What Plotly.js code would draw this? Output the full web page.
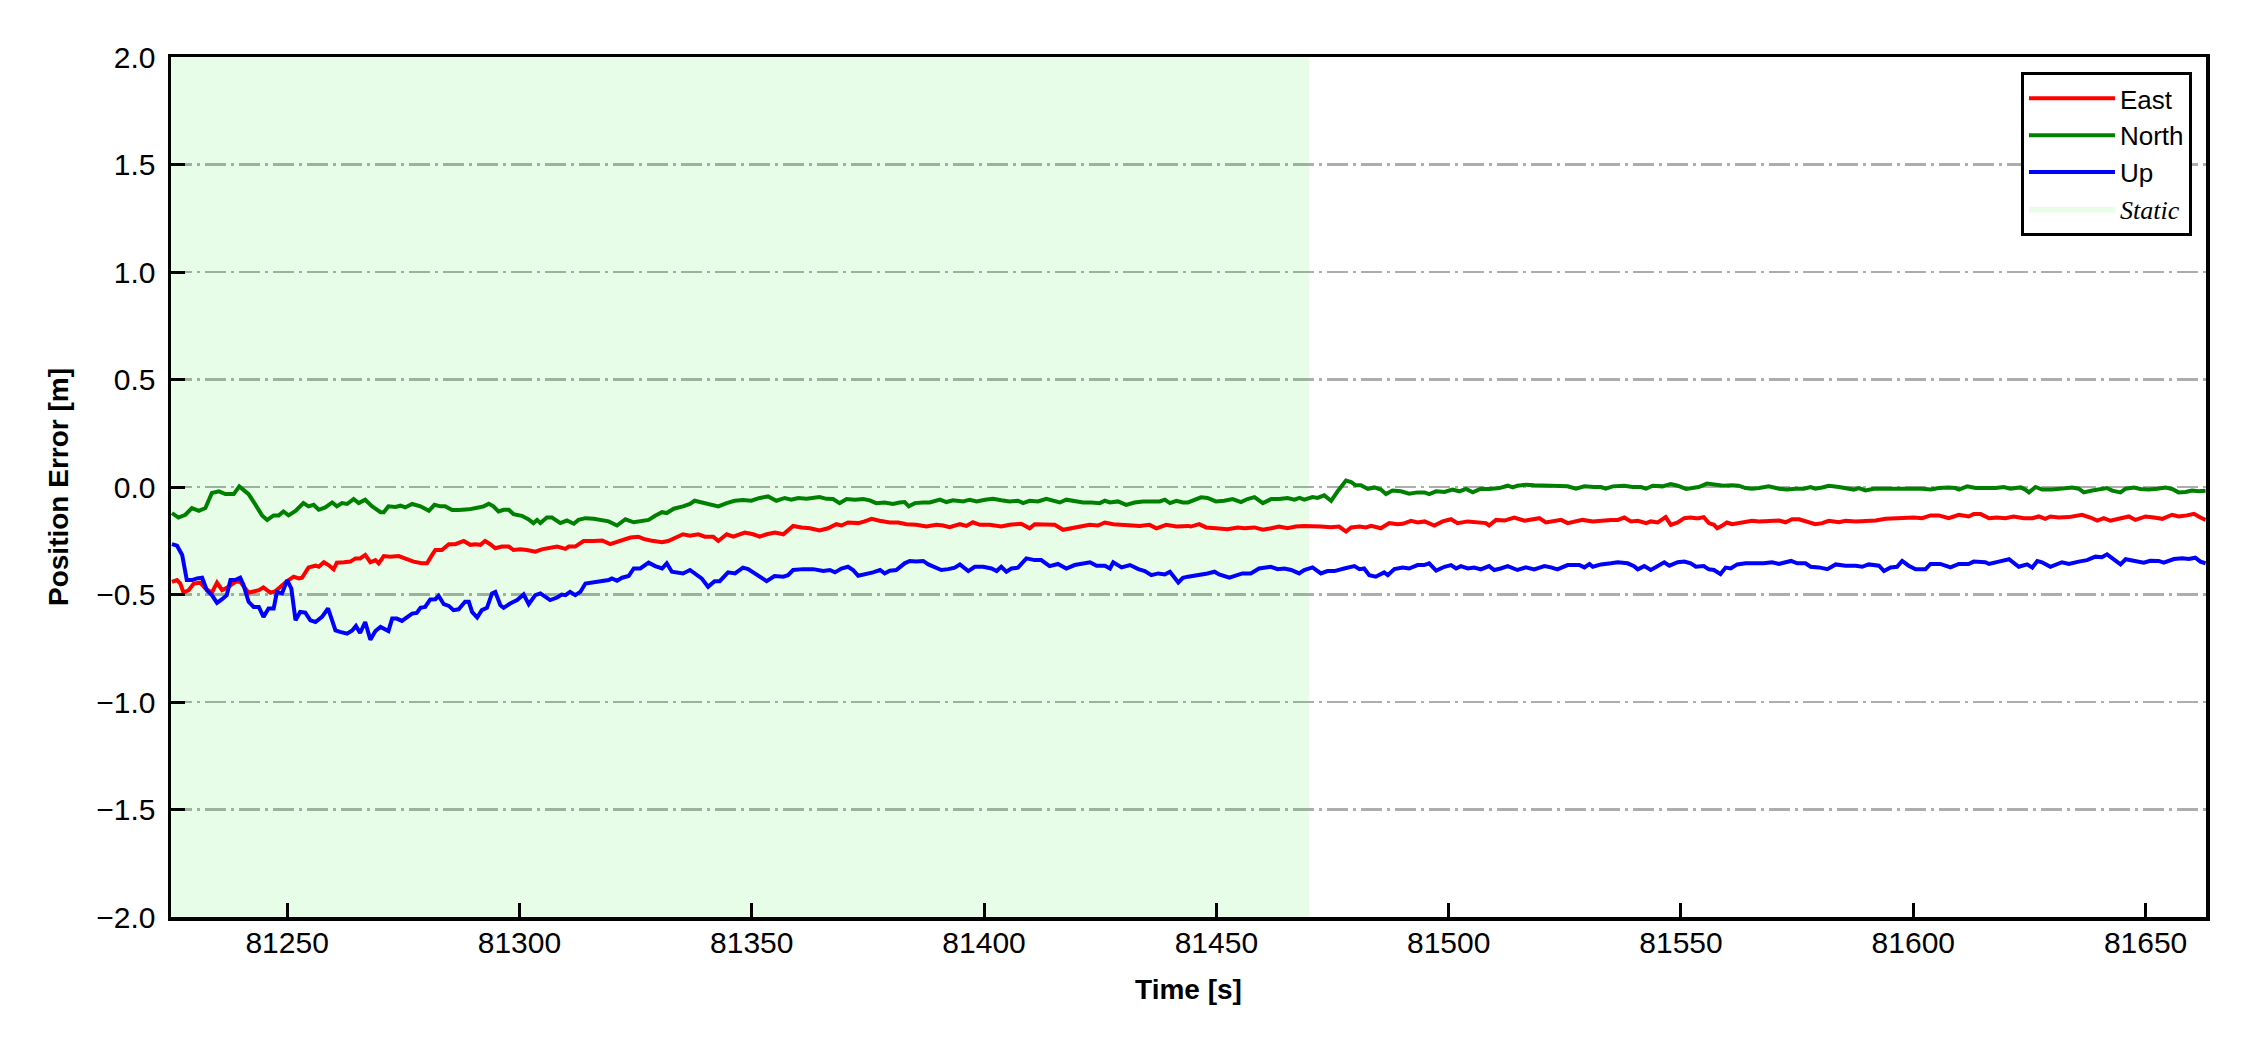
<!DOCTYPE html>
<html>
<head>
<meta charset="utf-8">
<script src="https://cdn.plot.ly/plotly-3.0.1.min.js"></script>
<style>html,body{margin:0;padding:0;background:#fff;}</style>
</head>
<body>
<div id="chart" style="width:2250px;height:1050px;"></div>
<script>
// ---- Data ----
const xRange = [81225, 81663];
const yRange = [-2, 2];
const staticStart = 81225;
const staticEnd = 81470;
const xTicks = [81250, 81300, 81350, 81400, 81450, 81500, 81550, 81600, 81650];

const northT = [81225.2,81226.6,81228.1,81229.5,81231.0,81232.4,81233.8,81235.3,81236.7,81238.5,81239.7,81241.7,81243.2,81244.6,81245.7,81247.1,81248.2,81249.2,81250.3,81251.8,81253.5,81254.6,81255.7,81256.8,81258.2,81259.7,81260.7,81261.8,81262.9,81264.3,81265.4,81266.8,81268.3,81270.1,81270.8,81271.8,81273.3,81274.4,81275.4,81276.9,81278.7,81280.5,81281.7,81283.0,81284.0,81285.5,81286.9,81289.1,81291.2,81292.3,81293.4,81294.4,81295.5,81296.6,81297.7,81298.7,81300.5,81301.9,81303.0,81303.8,81304.5,81305.9,81307.0,81308.8,81310.2,81311.7,81312.7,81314.2,81316.0,81317.8,81319.2,81321.0,81322.8,81324.6,81326.4,81327.8,81329.2,81330.7,81331.7,81333.2,
81335.2,81336.7,81337.7,81339.2,81340.9,81342.8,81344.6,81346.3,81348.1,81349.9,81351.7,81353.5,81355.3,81357.1,81358.5,81360.0,81361.8,81363.2,81364.6,81366.1,81367.5,81368.9,81370.4,81372.2,81374.0,81375.4,81376.8,81378.6,81380.4,81381.8,81382.9,81383.8,81385.1,81386.9,81388.3,81390.5,81391.9,81393.3,81395.5,81396.9,81398.4,81400.2,81401.9,81403.7,81405.5,81407.3,81408.4,81409.8,81411.6,81413.4,81414.8,81416.3,81417.7,81419.5,81421.3,81423.1,81424.9,81426.0,81427.1,81428.8,81430.6,81432.4,81434.2,81436.0,81437.8,81438.9,81440.0,81441.4,81442.8,81443.9,
81444.5,81446.7,81448.1,81449.9,81451.7,81453.5,81455.3,81456.7,81458.2,81460.0,81461.8,81463.5,81465.3,81466.8,81467.9,81468.9,81470.7,81471.8,81473.2,81474.7,81476.1,81477.9,81479.0,81480.0,81481.1,81482.6,81484.0,81485.4,81486.5,81487.9,81489.7,81491.5,81493.3,81494.8,81495.8,81497.3,81499.1,81500.8,81502.3,81503.7,81505.2,81506.9,81508.7,81510.9,81512.7,81513.8,81514.8,81516.6,81518.4,81520.6,81522.7,81525.6,81527.4,81529.2,81531.3,81532.8,81533.8,81535.3,81537.8,81539.6,81541.4,81542.5,81543.9,81546.0,81547.8,81549.3,81551.1,81553.2,
81553.8,81555.6,81557.4,81559.2,81561.0,81562.4,81563.9,81565.3,81566.8,81568.9,81571.1,81572.8,81574.6,81576.4,81577.9,81578.9,81580.4,81581.8,81584.0,81585.8,81587.2,81588.3,81589.7,81591.5,81593.7,81595.4,81597.6,81599.8,81601.9,81603.7,81605.5,81607.6,81609.1,81609.8,81611.6,81613.4,81615.5,81617.7,81619.5,81620.9,81622.0,81623.1,81624.1,81624.9,81626.3,81627.7,81629.9,81632.0,81634.2,81635.6,81636.7,81638.5,81640.3,81641.7,81642.8,81644.6,81645.7,81647.5,81648.9,81650.7,81652.5,81654.3,81655.7,81657.1,81658.6,81660.0,81661.4,81662.9];
const northV = [-0.121,-0.142,-0.129,-0.098,-0.111,-0.098,-0.028,-0.020,-0.033,-0.033,0.003,-0.033,-0.083,-0.132,-0.153,-0.132,-0.132,-0.114,-0.132,-0.111,-0.075,-0.090,-0.083,-0.106,-0.095,-0.072,-0.090,-0.075,-0.079,-0.056,-0.075,-0.059,-0.090,-0.117,-0.117,-0.090,-0.093,-0.087,-0.095,-0.079,-0.090,-0.111,-0.083,-0.090,-0.090,-0.107,-0.107,-0.104,-0.095,-0.090,-0.078,-0.090,-0.114,-0.106,-0.106,-0.126,-0.134,-0.150,-0.168,-0.153,-0.168,-0.142,-0.142,-0.168,-0.156,-0.171,-0.153,-0.145,-0.148,-0.153,-0.160,-0.179,-0.150,-0.164,-0.160,-0.153,-0.134,-0.117,-0.121,-0.101,
-0.090,-0.079,-0.064,-0.072,-0.079,-0.090,-0.075,-0.064,-0.061,-0.064,-0.051,-0.044,-0.064,-0.051,-0.059,-0.051,-0.055,-0.051,-0.047,-0.055,-0.056,-0.075,-0.056,-0.059,-0.056,-0.062,-0.075,-0.072,-0.079,-0.072,-0.070,-0.090,-0.075,-0.072,-0.072,-0.059,-0.070,-0.062,-0.067,-0.059,-0.067,-0.059,-0.055,-0.062,-0.067,-0.064,-0.075,-0.064,-0.067,-0.055,-0.064,-0.072,-0.059,-0.067,-0.072,-0.072,-0.075,-0.064,-0.072,-0.067,-0.083,-0.072,-0.067,-0.067,-0.067,-0.059,-0.075,-0.064,-0.072,-0.072,
-0.067,-0.048,-0.051,-0.067,-0.064,-0.056,-0.070,-0.056,-0.047,-0.075,-0.056,-0.056,-0.051,-0.059,-0.051,-0.059,-0.047,-0.051,-0.039,-0.064,-0.020,0.030,0.023,0.008,0.008,-0.009,-0.002,-0.012,-0.033,-0.016,-0.020,-0.031,-0.025,-0.025,-0.033,-0.020,-0.023,-0.012,-0.020,-0.009,-0.025,-0.008,-0.009,-0.005,0.006,-0.002,0.006,0.011,0.008,0.006,0.006,0.003,-0.008,0.003,0.000,0.000,-0.008,0.003,0.006,0.000,0.000,-0.008,0.006,0.003,0.014,0.006,-0.009,0.000,
0.000,0.016,0.011,0.006,0.008,0.006,-0.005,-0.008,-0.005,0.003,-0.008,-0.012,-0.008,-0.008,0.000,-0.008,-0.002,0.006,0.000,-0.005,-0.012,-0.005,-0.016,-0.008,-0.008,-0.005,-0.005,-0.005,-0.008,-0.012,-0.005,-0.002,-0.005,-0.012,0.003,-0.005,-0.005,-0.005,0.000,-0.008,-0.005,-0.002,-0.012,-0.025,0.000,-0.012,-0.012,-0.008,-0.002,-0.008,-0.025,-0.016,-0.009,-0.005,-0.017,-0.025,-0.008,-0.002,-0.009,-0.012,-0.008,-0.002,-0.009,-0.025,-0.023,-0.016,-0.020,-0.017];

const eastT = [81225.2,81226.3,81227.0,81227.7,81228.8,81229.9,81231.3,81232.4,81233.8,81234.9,81236.0,81237.4,81238.8,81239.9,81241.7,81242.8,81243.9,81244.9,81246.4,81247.5,81248.9,81250.0,81251.4,81252.5,81253.2,81254.6,81256.1,81256.8,81257.9,81258.9,81260.0,81260.7,81262.2,81263.6,81264.7,81265.7,81266.8,81267.9,81269.0,81269.7,81270.8,81272.2,81274.0,81275.4,81277.2,81279.0,81280.1,81281.2,81281.9,81283.3,81284.8,81286.2,81288.0,81289.4,81290.5,81291.6,81292.6,81293.7,81294.8,81296.2,81297.7,81298.7,81300.2,81301.6,81303.4,81304.8,81306.3,81308.1,81309.9,81310.6,81312.0,81313.8,81316.0,81317.8,81319.5,81321.0,81322.4,81323.9,81325.6,81326.7,81328.2,81329.6,81330.7,81332.0,
81335.2,81336.7,81338.5,81339.9,81341.7,81342.8,81344.6,81346.0,81348.5,81350.3,81351.7,81353.2,81355.0,81356.8,81358.9,81360.7,81362.5,81364.6,81366.4,81368.2,81369.3,81370.7,81372.9,81374.3,81375.8,81377.5,81379.7,81381.5,81383.3,81385.4,81387.6,81389.7,81391.2,81392.6,81394.8,81396.2,81397.6,81399.1,81401.2,81403.7,81405.5,81408.0,81409.8,81410.9,81412.7,81415.2,81417.0,81418.8,81420.6,81422.7,81424.5,81426.0,81427.8,81429.9,81431.4,81433.5,81435.6,81437.1,81439.2,81441.4,81443.9,
81444.5,81446.3,81447.8,81449.9,81452.4,81454.6,81456.0,81458.2,81460.0,81461.8,81463.5,81465.3,81467.1,81468.9,81470.7,81472.5,81474.7,81476.4,81477.9,81479.0,81480.8,81482.2,81483.3,81485.4,81487.2,81489.0,81490.1,81491.9,81493.3,81494.8,81496.9,81498.7,81500.5,81501.9,81504.1,81506.2,81508.0,81508.7,81510.2,81512.0,81514.1,81516.3,81517.7,81519.5,81520.9,81522.4,81524.2,81525.6,81527.4,81528.8,81531.0,81532.8,81534.9,81536.4,81537.8,81539.2,81540.7,81542.5,81543.5,81545.0,81546.7,81547.8,81549.3,81550.7,81552.1,81553.2,
81553.8,81554.9,81556.0,81557.1,81557.8,81558.9,81559.9,81561.0,81562.4,81563.9,81565.3,81566.8,81568.9,81571.1,81572.5,81573.9,81575.4,81577.2,81578.9,81580.4,81581.8,81584.0,81585.4,81587.6,81589.7,81591.9,81594.0,81596.2,81598.3,81600.1,81601.9,81603.7,81605.5,81607.6,81609.8,81611.9,81613.0,81614.5,81616.3,81618.0,81619.8,81621.6,81623.8,81625.6,81627.0,81628.4,81629.5,81631.3,81633.5,81636.3,81638.1,81639.6,81641.0,81642.4,81644.2,81646.4,81647.8,81650.0,81651.8,81653.6,81655.7,81657.1,81658.9,81660.4,81661.8,81662.9];
const eastV = [-0.441,-0.433,-0.449,-0.491,-0.480,-0.449,-0.445,-0.472,-0.491,-0.445,-0.480,-0.464,-0.441,-0.441,-0.492,-0.488,-0.480,-0.467,-0.492,-0.484,-0.456,-0.438,-0.417,-0.425,-0.422,-0.374,-0.366,-0.371,-0.350,-0.363,-0.383,-0.352,-0.350,-0.347,-0.332,-0.332,-0.316,-0.350,-0.340,-0.355,-0.321,-0.324,-0.321,-0.332,-0.347,-0.355,-0.355,-0.316,-0.293,-0.293,-0.266,-0.266,-0.251,-0.269,-0.266,-0.269,-0.251,-0.266,-0.285,-0.277,-0.277,-0.293,-0.290,-0.293,-0.301,-0.290,-0.285,-0.277,-0.288,-0.277,-0.277,-0.251,-0.251,-0.249,-0.266,-0.257,-0.246,-0.235,-0.231,-0.241,-0.249,-0.251,-0.257,-0.251,
-0.220,-0.227,-0.220,-0.231,-0.231,-0.251,-0.220,-0.231,-0.212,-0.220,-0.231,-0.220,-0.212,-0.220,-0.181,-0.188,-0.192,-0.202,-0.192,-0.173,-0.179,-0.165,-0.168,-0.160,-0.148,-0.157,-0.165,-0.165,-0.173,-0.176,-0.184,-0.176,-0.179,-0.187,-0.173,-0.181,-0.164,-0.176,-0.176,-0.184,-0.176,-0.171,-0.192,-0.173,-0.176,-0.176,-0.199,-0.192,-0.181,-0.176,-0.179,-0.165,-0.173,-0.176,-0.181,-0.181,-0.176,-0.192,-0.176,-0.184,-0.181,
-0.184,-0.173,-0.188,-0.192,-0.196,-0.188,-0.192,-0.188,-0.199,-0.192,-0.184,-0.192,-0.184,-0.181,-0.181,-0.184,-0.187,-0.184,-0.207,-0.188,-0.184,-0.188,-0.181,-0.192,-0.168,-0.173,-0.171,-0.157,-0.165,-0.160,-0.179,-0.160,-0.150,-0.168,-0.160,-0.165,-0.168,-0.179,-0.153,-0.156,-0.142,-0.157,-0.150,-0.145,-0.165,-0.160,-0.153,-0.168,-0.160,-0.153,-0.160,-0.156,-0.153,-0.153,-0.142,-0.160,-0.157,-0.168,-0.160,-0.165,-0.140,-0.176,-0.165,-0.145,-0.142,-0.145,
-0.145,-0.140,-0.168,-0.176,-0.192,-0.179,-0.165,-0.173,-0.168,-0.165,-0.157,-0.160,-0.157,-0.156,-0.164,-0.150,-0.150,-0.164,-0.173,-0.168,-0.157,-0.164,-0.157,-0.160,-0.157,-0.156,-0.148,-0.145,-0.145,-0.142,-0.145,-0.132,-0.132,-0.145,-0.129,-0.137,-0.126,-0.126,-0.145,-0.142,-0.145,-0.137,-0.145,-0.145,-0.137,-0.148,-0.137,-0.142,-0.140,-0.129,-0.142,-0.156,-0.145,-0.157,-0.148,-0.137,-0.153,-0.137,-0.142,-0.148,-0.129,-0.137,-0.132,-0.125,-0.142,-0.153];

const upT = [81225.2,81226.3,81227.4,81228.4,81229.5,81230.6,81231.7,81232.7,81233.8,81234.9,81236.0,81237.0,81237.8,81238.8,81239.9,81240.6,81241.7,81242.8,81243.9,81244.9,81246.0,81247.1,81247.8,81248.9,81250.0,81250.9,81251.8,81252.8,81253.9,81255.0,81256.1,81257.5,81258.8,81259.6,81260.4,81261.4,81262.9,81264.0,81264.8,81265.7,81266.8,81267.9,81269.0,81270.1,81271.1,81271.8,81272.6,81273.6,81274.7,81275.8,81276.9,81277.9,81278.7,81279.7,81280.8,81281.9,81282.6,81283.7,81284.8,81285.8,81286.9,81288.3,81289.1,81289.8,81290.9,81291.9,81293.0,81294.1,81294.8,81295.9,81296.6,81298.0,81299.5,81300.9,81302.0,81303.4,81304.5,81305.6,81306.6,81308.1,81309.1,81309.9,81310.9,81312.0,81313.1,81314.2,81315.6,81316.7,81317.8,81319.2,81319.9,81321.0,81322.1,81323.5,81324.6,81326.0,81327.8,81329.2,81330.7,81331.7,81332.8,
81335.2,81336.7,81338.1,81339.2,81340.6,81342.0,81343.1,81344.9,81346.4,81348.1,81349.2,81350.6,81351.7,81353.2,81354.9,81356.8,81357.8,81358.9,81361.1,81363.2,81365.4,81366.8,81367.9,81369.3,81370.7,81371.8,81372.9,81374.7,81376.1,81377.6,81378.6,81379.7,81381.1,81382.9,81384.0,81385.4,81386.9,81388.0,81389.4,81390.8,81392.3,81393.7,81394.8,81396.6,81398.0,81399.8,81401.6,81402.7,81403.7,81404.8,81405.9,81407.3,81409.1,81410.9,81412.3,81414.1,81415.9,81417.7,81419.5,81421.0,81422.8,81424.2,81426.0,81427.1,81427.8,81429.6,81431.4,81433.2,81434.6,81436.0,81437.5,81438.9,81440.0,81441.8,81442.8,81443.9,
81444.9,81446.3,81448.1,81449.6,81450.6,81452.8,81454.2,81455.6,81457.4,81459.2,81461.7,81463.2,81464.6,81466.1,81467.8,81468.9,81470.7,81472.5,81473.9,81475.4,81477.5,81479.7,81480.8,81481.8,81482.9,81484.3,81486.1,81486.9,81488.3,81490.1,81491.5,81493.3,81494.7,81495.8,81497.3,81499.1,81500.5,81501.6,81502.6,81504.1,81505.5,81506.9,81508.7,81509.8,81511.2,81512.7,81514.8,81516.6,81518.4,81520.6,81522.0,81523.4,81525.6,81528.1,81529.2,81530.3,81531.0,81532.8,81534.9,81536.4,81538.5,81539.9,81540.7,81542.1,81543.5,81545.0,81546.4,81547.5,81549.3,81550.7,81552.1,81553.2,
81553.8,81554.9,81556.0,81557.1,81558.5,81559.6,81560.7,81562.1,81563.9,81566.0,81567.8,81569.6,81571.1,81572.5,81573.7,81575.0,81576.8,81577.9,81579.7,81581.5,81583.3,81585.4,81587.6,81589.0,81590.4,81592.6,81593.7,81595.1,81596.5,81597.6,81599.0,81600.5,81602.6,81603.7,81605.8,81608.0,81609.8,81611.9,81613.0,81615.5,81616.3,81618.4,81620.6,81622.7,81624.5,81625.6,81626.7,81627.7,81629.5,81632.0,81633.5,81635.6,81637.4,81639.2,81640.6,81641.7,81643.2,81644.6,81645.7,81647.8,81649.6,81651.0,81652.8,81653.9,81656.1,81657.9,81659.3,81660.7,81661.8,81662.9];
const upV = [-0.266,-0.273,-0.316,-0.433,-0.433,-0.425,-0.422,-0.480,-0.503,-0.539,-0.522,-0.503,-0.433,-0.433,-0.422,-0.456,-0.534,-0.558,-0.558,-0.604,-0.565,-0.565,-0.488,-0.495,-0.433,-0.472,-0.620,-0.581,-0.584,-0.620,-0.628,-0.604,-0.565,-0.620,-0.667,-0.674,-0.682,-0.667,-0.646,-0.679,-0.628,-0.710,-0.670,-0.651,-0.662,-0.670,-0.612,-0.612,-0.623,-0.604,-0.589,-0.586,-0.562,-0.558,-0.523,-0.522,-0.506,-0.545,-0.553,-0.573,-0.569,-0.534,-0.534,-0.581,-0.607,-0.573,-0.562,-0.495,-0.488,-0.550,-0.562,-0.542,-0.526,-0.500,-0.545,-0.503,-0.495,-0.511,-0.526,-0.514,-0.500,-0.503,-0.488,-0.503,-0.488,-0.449,-0.444,-0.444,-0.438,-0.433,-0.425,-0.436,-0.422,-0.414,-0.379,-0.379,-0.352,-0.368,-0.379,-0.355,-0.394,
-0.402,-0.386,-0.410,-0.425,-0.464,-0.438,-0.438,-0.397,-0.402,-0.375,-0.382,-0.402,-0.413,-0.438,-0.414,-0.417,-0.410,-0.386,-0.382,-0.382,-0.391,-0.386,-0.397,-0.379,-0.371,-0.386,-0.413,-0.405,-0.397,-0.386,-0.402,-0.389,-0.386,-0.355,-0.344,-0.347,-0.344,-0.360,-0.371,-0.386,-0.382,-0.375,-0.360,-0.391,-0.371,-0.371,-0.379,-0.391,-0.371,-0.394,-0.379,-0.375,-0.332,-0.340,-0.340,-0.368,-0.358,-0.379,-0.363,-0.358,-0.350,-0.366,-0.366,-0.379,-0.350,-0.374,-0.363,-0.382,-0.391,-0.410,-0.402,-0.407,-0.394,-0.444,-0.422,-0.417,
-0.414,-0.407,-0.402,-0.394,-0.407,-0.422,-0.413,-0.402,-0.402,-0.379,-0.371,-0.382,-0.379,-0.386,-0.402,-0.386,-0.374,-0.402,-0.391,-0.391,-0.379,-0.368,-0.382,-0.379,-0.410,-0.417,-0.397,-0.410,-0.382,-0.375,-0.379,-0.363,-0.363,-0.355,-0.389,-0.371,-0.363,-0.379,-0.368,-0.379,-0.375,-0.383,-0.368,-0.386,-0.379,-0.368,-0.386,-0.374,-0.383,-0.368,-0.374,-0.383,-0.363,-0.363,-0.374,-0.358,-0.371,-0.360,-0.355,-0.350,-0.355,-0.368,-0.383,-0.368,-0.386,-0.368,-0.350,-0.366,-0.350,-0.347,-0.355,-0.371,
-0.371,-0.368,-0.383,-0.386,-0.405,-0.375,-0.379,-0.360,-0.355,-0.355,-0.355,-0.350,-0.358,-0.350,-0.344,-0.355,-0.355,-0.371,-0.374,-0.382,-0.360,-0.366,-0.366,-0.371,-0.360,-0.366,-0.391,-0.374,-0.371,-0.344,-0.366,-0.383,-0.383,-0.358,-0.358,-0.374,-0.358,-0.358,-0.347,-0.350,-0.358,-0.347,-0.336,-0.371,-0.360,-0.375,-0.344,-0.350,-0.371,-0.350,-0.358,-0.347,-0.340,-0.324,-0.327,-0.313,-0.336,-0.360,-0.336,-0.344,-0.352,-0.343,-0.344,-0.352,-0.335,-0.332,-0.335,-0.329,-0.347,-0.355];

// ---- Traces ----
const FONT = 'Liberation Sans, Arial, Helvetica, sans-serif';
const traces = [
  {
    type: 'scatter', mode: 'lines',
    x: [staticStart, staticEnd, staticEnd, staticStart, staticStart],
    y: [yRange[0], yRange[0], yRange[1], yRange[1], yRange[0]],
    fill: 'toself', fillcolor: 'rgba(0,235,0,0.09)',
    line: {width: 0, color: 'rgba(0,0,0,0)'},
    name: '<span style="font-family:Liberation Serif"><i>Static</i></span>',
    legendrank: 4, hoverinfo: 'skip'
  },
  {type: 'scatter', mode: 'lines', x: eastT, y: eastV, name: 'East',
   line: {color: '#ff0000', width: 4}, legendrank: 1},
  {type: 'scatter', mode: 'lines', x: northT, y: northV, name: 'North',
   line: {color: '#008000', width: 4}, legendrank: 2},
  {type: 'scatter', mode: 'lines', x: upT, y: upV, name: 'Up',
   line: {color: '#0000ff', width: 4}, legendrank: 3}
];

const layout = {
  width: 2250, height: 1050,
  margin: {l: 171, r: 44, t: 57, b: 133, pad: 0},
  paper_bgcolor: '#ffffff', plot_bgcolor: '#ffffff',
  font: {family: FONT, size: 30, color: '#000000'},
  showlegend: true,
  xaxis: {
    range: xRange, tickvals: xTicks, tickformat: 'd',
    ticks: 'inside', ticklen: 14, tickwidth: 3, tickcolor: '#000',
    showline: true, linewidth: 3.5, linecolor: '#000', mirror: true,
    showgrid: false, zeroline: false,
    ticklabelstandoff: -4,
    tickfont: {family: FONT, size: 30, color: '#000'},
    title: {text: 'Time [s]', standoff: 23, font: {family: FONT, size: 28, weight: 'bold', color: '#000'}}
  },
  yaxis: {
    range: yRange, dtick: 0.5, tick0: -2, tickformat: '.1f',
    ticks: 'inside', ticklen: 14, tickwidth: 3, tickcolor: '#000',
    showline: true, linewidth: 3.5, linecolor: '#000', mirror: true,
    showgrid: true, gridcolor: '#adadad', gridwidth: 2.8, griddash: '21px,5px,3px,5px',
    zeroline: false,
    ticklabelstandoff: 6,
    tickfont: {family: FONT, size: 30, color: '#000'},
    title: {text: 'Position Error [m]', standoff: 20, font: {family: FONT, size: 28, weight: 'bold', color: '#000'}}
  },
  legend: {
    x: 0.9931, xanchor: 'right', y: 0.9826, yanchor: 'top',
    bgcolor: '#ffffff', bordercolor: '#000000', borderwidth: 3,
    font: {family: FONT, size: 26, color: '#000'},
    itemwidth: 86, traceorder: 'normal', tracegroupgap: 0
  }
};

Plotly.newPlot('chart', traces, layout, {displayModeBar: false, staticPlot: true});
</script>
</body>
</html>
